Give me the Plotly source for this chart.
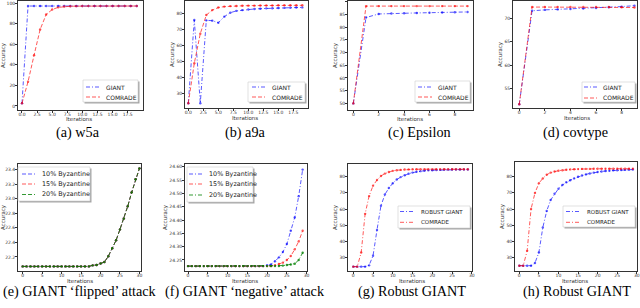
import plotly.graph_objects as go

W, H = 640, 308

# ---------------- data ----------------
it20 = list(range(20))
it10 = list(range(10))
it31 = list(range(31))
it30 = list(range(30))

w5a_giant = [2.6, 97.3, 97.3, 97.3, 97.3, 97.3, 97.3, 97.3, 97.3, 97.3,
             97.3, 97.3, 97.3, 97.3, 97.3, 97.3, 97.3, 97.3, 97.3, 97.3]
w5a_comrade = [2.6, 23.6, 49.5, 74.4, 89.0, 93.9, 96.0, 96.8, 97.1, 97.2,
               97.3, 97.3, 97.3, 97.3, 97.3, 97.3, 97.3, 97.3, 97.3, 97.3]

a9a_giant = [23.8, 75.8, 23.8, 75.6, 75.4, 74.1, 77.9, 80.4, 81.5, 82.0,
             82.4, 82.7, 82.9, 83.1, 83.2, 83.3, 83.4, 83.5, 83.6, 83.7]
a9a_comrade = [23.8, 48.8, 67.3, 78.9, 82.0, 83.6, 84.2, 84.5, 84.6, 84.7,
               84.8, 84.8, 84.9, 84.9, 84.9, 85.0, 85.0, 85.0, 85.0, 85.0]

eps_giant = [50.0, 83.8, 85.2, 85.4, 85.5, 85.6, 85.7, 85.8, 85.9, 86.0]
eps_comrade = [50.0, 88.3, 88.3, 88.3, 88.3, 88.3, 88.3, 88.3, 88.3, 88.3]

cov_giant = [51.6, 71.6, 71.8, 71.9, 72.0, 72.1, 72.2, 72.35, 72.5, 72.7]
cov_comrade = [51.6, 72.4, 72.4, 72.4, 72.4, 72.4, 72.4, 72.4, 72.35, 72.3]

flip_10 = [22.07, 22.07, 22.07, 22.07, 22.07, 22.07, 22.07, 22.07, 22.07, 22.07,
           22.07, 22.07, 22.07, 22.07, 22.07, 22.07, 22.07, 22.07, 22.085, 22.09,
           22.11, 22.13, 22.21, 22.32, 22.43, 22.58, 22.73, 22.90, 23.09, 23.27, 23.42]
flip_15 = [22.07, 22.07, 22.07, 22.07, 22.07, 22.07, 22.07, 22.07, 22.07, 22.07,
           22.07, 22.07, 22.07, 22.07, 22.07, 22.07, 22.07, 22.07, 22.085, 22.09,
           22.11, 22.13, 22.21, 22.32, 22.43, 22.58, 22.73, 22.90, 23.09, 23.27, 23.42]
flip_20 = [22.07, 22.07, 22.07, 22.07, 22.07, 22.07, 22.07, 22.07, 22.07, 22.07,
           22.07, 22.07, 22.07, 22.07, 22.07, 22.07, 22.07, 22.07, 22.085, 22.09,
           22.11, 22.13, 22.21, 22.32, 22.43, 22.58, 22.73, 22.90, 23.09, 23.27, 23.42]

neg_10 = [24.227, 24.227, 24.227, 24.227, 24.227, 24.227, 24.227, 24.227, 24.227, 24.227,
          24.227, 24.227, 24.227, 24.227, 24.227, 24.227, 24.227, 24.227, 24.227, 24.227,
          24.230, 24.233, 24.245, 24.260, 24.280, 24.310, 24.360, 24.410, 24.490, 24.590]
neg_15 = [24.227, 24.227, 24.227, 24.227, 24.227, 24.227, 24.227, 24.227, 24.227, 24.227,
          24.227, 24.227, 24.227, 24.227, 24.227, 24.227, 24.227, 24.227, 24.227, 24.227,
          24.227, 24.227, 24.230, 24.235, 24.240, 24.250, 24.265, 24.290, 24.320, 24.360]
neg_20 = [24.227, 24.227, 24.227, 24.227, 24.227, 24.227, 24.227, 24.227, 24.227, 24.227,
          24.227, 24.227, 24.227, 24.227, 24.227, 24.227, 24.227, 24.227, 24.227, 24.227,
          24.227, 24.227, 24.227, 24.227, 24.229, 24.231, 24.233, 24.236, 24.250, 24.277]

rob1_giant = [24.2, 24.2, 24.2, 24.2, 25.0, 31.0, 47.0, 62.0, 69.0, 73.0,
              76.0, 78.3, 79.8, 81.0, 81.9, 82.6, 83.1, 83.5, 83.8, 84.0,
              84.1, 84.2, 84.3, 84.4, 84.45, 84.5, 84.5, 84.5, 84.5, 84.5]
rob1_comrade = [24.2, 24.2, 33.0, 57.0, 68.0, 74.5, 78.0, 80.5, 82.0, 83.0,
                83.7, 84.1, 84.3, 84.5, 84.6, 84.7, 84.7, 84.7, 84.7, 84.7,
                84.7, 84.7, 84.7, 84.7, 84.7, 84.7, 84.7, 84.7, 84.7, 84.7]

rob2_giant = [24.8, 24.8, 24.8, 24.8, 26.5, 33.0, 48.5, 58.8, 65.6, 69.5,
              72.6, 74.9, 76.6, 77.9, 79.0, 80.0, 80.8, 81.5, 82.1, 82.6,
              83.0, 83.3, 83.6, 83.8, 84.0, 84.1, 84.2, 84.3, 84.4, 84.5]
rob2_comrade = [24.8, 24.8, 34.0, 60.0, 70.0, 76.0, 79.0, 81.3, 82.6, 83.3,
                83.8, 84.1, 84.4, 84.6, 84.7, 84.8, 84.9, 84.9, 84.9, 85.0,
                85.0, 85.0, 85.0, 85.0, 85.0, 85.0, 85.0, 85.0, 85.0, 85.0]

xt_frac = [0, 2.5, 5, 7.5, 10, 12.5, 15, 17.5]
xt_even = [0, 2, 4, 6, 8]
xt_five = [0, 5, 10, 15, 20, 25, 30]
yt_w5a = [0, 20, 40, 60, 80, 100]
yt_a9a = [30, 40, 50, 60, 70, 80]
yt_eps = [50, 55, 60, 65, 70, 75, 80, 85, 90]
yt_cov = [55, 60, 65, 70]
yt_flip = [22.2, 22.4, 22.6, 22.8, 23.0, 23.2, 23.4]
yt_neg = [24.25, 24.30, 24.35, 24.40, 24.45, 24.50, 24.55, 24.60]
yt_rob = [30, 40, 50, 60, 70, 80]

captions = ["(a) w5a", "(b) a9a", "(c) Epsilon", "(d) covtype",
            "(e) GIANT \u2018flipped\u2019 attack", "(f) GIANT \u2018negative\u2019 attack",
            "(g) Robust GIANT", "(h) Robust GIANT"]
x_title = "Iterations"
y_title = "Accuracy"

# ---------------- style ----------------
BLUE = 'rgba(0,0,255,0.65)'
RED = 'rgba(255,0,0,0.65)'
GREEN = 'rgba(0,128,0,0.8)'
DASH = '4px,2px'
DASHDOT = '4px,2px,1px,2px'
AX = '#333333'
SANS = 'DejaVu Sans'
SERIF = 'Liberation Serif'
CAP_SIZE = 14.2


def px_x(p):
    return p / W


def px_y(p):
    return 1 - p / H


panels = [
    dict(x=it20, s=[('GIANT', w5a_giant, BLUE, DASHDOT), ('COMRADE', w5a_comrade, RED, DASH)],
         box=(18, 142.5, 1, 110), xr=(-0.66, 19.95), yr=(-3.9, 102.2),
         xt=xt_frac, xf='{:.1f}', yt=yt_w5a, yf='{:d}',
         leg=(83, 138, 80, 102), ly=(87, 97), lsx=(86, 100), ltx=104, lfs=6,
         xtl=(79, 119), cap=(77.5, 132.5)),
    dict(x=it20, s=[('GIANT', a9a_giant, BLUE, DASHDOT), ('COMRADE', a9a_comrade, RED, DASH)],
         box=(185, 308, 1, 108), xr=(-0.55, 19.95), yr=(20.8, 87.7),
         xt=xt_frac, xf='{:.1f}', yt=yt_a9a, yf='{:d}',
         leg=(248, 305, 82, 102), ly=(87, 97), lsx=(252, 265), ltx=270, lfs=6,
         xtl=(245, 118), cap=(245, 132.5)),
    dict(x=it10, s=[('GIANT', eps_giant, BLUE, DASHDOT), ('COMRADE', eps_comrade, RED, DASH)],
         box=(348, 473, 1, 110), xr=(-0.42, 9.43), yr=(47.4, 90.3),
         xt=xt_even, xf='{:d}', yt=yt_eps, yf='{:d}',
         leg=(415, 470, 81, 102), ly=(87, 97), lsx=(418, 432), ltx=436, lfs=6,
         xtl=(410, 119), cap=(419, 132.5)),
    dict(x=it10, s=[('GIANT', cov_giant, BLUE, DASHDOT), ('COMRADE', cov_comrade, RED, DASH)],
         box=(513, 637, 1, 108), xr=(-0.49, 9.2), yr=(50.8, 73.7),
         xt=xt_even, xf='{:d}', yt=yt_cov, yf='{:d}',
         leg=(582, 635, 82, 102), ly=(87, 98), lsx=(584, 597), ltx=601, lfs=6,
         xtl=(577, 118), cap=(575.5, 132.5)),
    dict(x=it31, s=[('10% Byzantine', flip_10, BLUE, DASH), ('15% Byzantine', flip_15, RED, DASH),
                    ('20% Byzantine', flip_20, GREEN, DASH)],
         box=(18, 141, 164, 271), xr=(-1.2, 30.4), yr=(22.007, 23.48),
         xt=xt_five, xf='{:d}', yt=yt_flip, yf='{:.1f}',
         leg=(18, 90, 167, 201), ly=(174, 184, 194.5), lsx=(22, 35), ltx=40, lfs=6.4,
         xtl=(80, 281), cap=(80, 291)),
    dict(x=it30, s=[('10% Byzantine', neg_10, BLUE, DASHDOT), ('15% Byzantine', neg_15, RED, DASHDOT),
                    ('20% Byzantine', neg_20, GREEN, DASHDOT)],
         box=(185, 307, 164, 271), xr=(-0.76, 30.1), yr=(24.2086, 24.611),
         xt=xt_five, xf='{:d}', yt=yt_neg, yf='{:.2f}',
         leg=(187, 253, 167, 202), ly=(174, 184, 195), lsx=(189, 203), ltx=207, lfs=6.4,
         xtl=(245, 281), cap=(244.6, 291)),
    dict(x=it30, s=[('ROBUST GIANT', rob1_giant, BLUE, DASHDOT), ('COMRADE', rob1_comrade, RED, DASHDOT)],
         box=(348, 472, 164, 271), xr=(-1.34, 30.05), yr=(21.5, 87.95),
         xt=xt_five, xf='{:d}', yt=yt_rob, yf='{:d}',
         leg=(398, 470, 206, 228), ly=(211.5, 222.3), lsx=(400, 415), ltx=419, lfs=5.5,
         xtl=(412, 281), cap=(411.7, 291)),
    dict(x=it30, s=[('ROBUST GIANT', rob2_giant, BLUE, DASHDOT), ('COMRADE', rob2_comrade, RED, DASHDOT)],
         box=(515, 637, 162, 271), xr=(-1.1, 30.05), yr=(21.5, 89.2),
         xt=xt_five, xf='{:d}', yt=yt_rob, yf='{:d}',
         leg=(563, 635, 206, 227), ly=(211.5, 222.3), lsx=(566, 580), ltx=585, lfs=5.5,
         xtl=(575, 281), cap=(576.7, 291)),
]

fig = go.Figure()
shapes = []
annotations = []
layout = {}

for i, p in enumerate(panels):
    n = '' if i == 0 else str(i + 1)
    xa, ya = 'x' + n, 'y' + n
    for name, vals, col, dash in p['s']:
        fig.add_trace(go.Scatter(
            x=p['x'], y=vals, name=name, mode='lines+markers', xaxis=xa, yaxis=ya,
            line=dict(color=col, width=1, dash=dash),
            marker=dict(color=col, size=2.4), showlegend=False))
    x0, x1, y0, y1 = p['box']
    common = dict(showline=True, mirror=True, linecolor=AX, linewidth=0.8,
                  ticks='outside', ticklen=2, tickwidth=0.6, tickcolor=AX,
                  tickfont=dict(family=SANS, size=4.5, color=AX),
                  showgrid=False, zeroline=False, automargin=False)
    layout['xaxis' + n] = dict(
        domain=[px_x(x0), px_x(x1)], range=list(p['xr']), anchor=ya,
        tickmode='array', tickvals=p['xt'], ticktext=[p['xf'].format(v) for v in p['xt']],
        ticklabelstandoff=-2, **common)
    layout['yaxis' + n] = dict(
        domain=[px_y(y1), px_y(y0)], range=list(p['yr']), anchor=xa,
        tickmode='array', tickvals=p['yt'], ticktext=[p['yf'].format(v) for v in p['yt']],
        ticklabelstandoff=-1,
        title=dict(text=y_title, font=dict(family=SANS, size=5.5, color=AX), standoff=1),
        **common)

    # x-axis title
    tx, ty = p['xtl']
    annotations.append(dict(xref='paper', yref='paper', x=px_x(tx), y=px_y(ty),
                            text=x_title, showarrow=False, xanchor='center', yanchor='middle',
                            font=dict(family=SANS, size=5.5, color=AX)))

    # legend box
    lx0, lx1, ly0, ly1 = p['leg']
    shapes.append(dict(type='rect', xref='paper', yref='paper',
                       x0=px_x(lx0 + 1.5), x1=px_x(lx1 + 1.5), y0=px_y(ly1 + 1.5), y1=px_y(ly0 + 1.5),
                       fillcolor='rgba(0,0,0,0.35)', line=dict(width=0)))
    shapes.append(dict(type='rect', xref='paper', yref='paper',
                       x0=px_x(lx0), x1=px_x(lx1), y0=px_y(ly1), y1=px_y(ly0),
                       fillcolor='white', line=dict(color='#cccccc', width=0.6)))
    for (name, vals, col, dash), ry in zip(p['s'], p['ly']):
        shapes.append(dict(type='line', xref='paper', yref='paper',
                           x0=px_x(p['lsx'][0]), x1=px_x(p['lsx'][1]), y0=px_y(ry), y1=px_y(ry),
                           line=dict(color=col, width=1, dash=dash)))
        annotations.append(dict(xref='paper', yref='paper', x=px_x(p['ltx']), y=px_y(ry),
                                text=name, showarrow=False, xanchor='left', yanchor='middle',
                                font=dict(family=SANS, size=p['lfs'], color='#222222')))
    cx, cy = p['cap']
    annotations.append(dict(xref='paper', yref='paper', x=px_x(cx), y=px_y(cy),
                            text=captions[i], showarrow=False, xanchor='center', yanchor='middle',
                            font=dict(family=SERIF, size=CAP_SIZE, color='black')))

fig.update_layout(
    width=W, height=H, margin=dict(l=0, r=0, t=0, b=0),
    paper_bgcolor='white', plot_bgcolor='white', showlegend=False,
    shapes=shapes, annotations=annotations, **layout)

fig.write_html(
    "out.html",
    config={'displayModeBar': False},
    post_script="document.body.style.margin='0';document.body.style.padding='0';"
                "document.body.style.overflow='hidden';")
